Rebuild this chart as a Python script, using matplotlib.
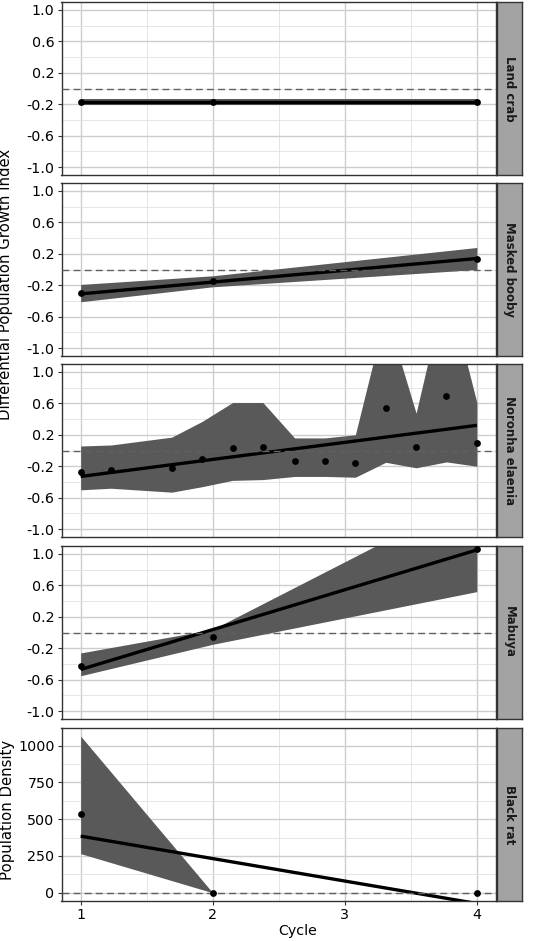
import numpy as np
import matplotlib
matplotlib.use('Agg')
import matplotlib.pyplot as plt
from matplotlib.ticker import FixedLocator

# species order (top to bottom)
species = ['Land crab', 'Masked booby', 'Noronha elaenia', 'Mabuya', 'Black rat']

# observed points
crab_x = [1, 2, 4]
crab_y = [-0.17, -0.17, -0.17]
booby_x = [1, 2, 4]
booby_y = [-0.30, -0.14, 0.135]
elaenia_x = [1.0, 1.23, 1.69, 1.92, 2.15, 2.38, 2.62, 2.85, 3.08, 3.31, 3.54, 3.77, 4.0]
elaenia_y = [-0.27, -0.25, -0.22, -0.11, 0.035, 0.045, -0.13, -0.13, -0.16, 0.54, 0.045, 0.69, 0.095]
mabuya_x = [1, 2, 4]
mabuya_y = [-0.43, -0.06, 1.06]
rat_x = [1, 2, 4]
rat_y = [538, 0, 0]

# fitted line ends (cycle 1 and 4)
crab_fit = [-0.17, -0.17]
booby_fit = [-0.31, 0.14]
elaenia_fit = [-0.33, 0.32]
mabuya_fit = [-0.47, 1.05]
rat_fit = [385, -73]

# ribbons (lower, upper) at the observed x
crab_lo = [-0.205, -0.205, -0.205]
crab_hi = [-0.135, -0.135, -0.135]
booby_lo = [-0.41, -0.22, 0.0]
booby_hi = [-0.19, -0.08, 0.28]
elaenia_lo = [-0.50, -0.48, -0.53, -0.46, -0.38, -0.37, -0.33, -0.33, -0.34, -0.15, -0.22, -0.145, -0.20]
elaenia_hi = [0.057, 0.07, 0.17, 0.37, 0.61, 0.61, 0.16, 0.16, 0.20, 1.76, 0.475, 2.13, 0.61]
mabuya_lo = [-0.55, -0.15, 0.52]
mabuya_hi = [-0.26, 0.04, 1.76]
rat_lo = [266, 0, 0]
rat_hi = [1065, 0, 0]

panels = [
    (crab_x, crab_y, crab_fit, crab_lo, crab_hi),
    (booby_x, booby_y, booby_fit, booby_lo, booby_hi),
    (elaenia_x, elaenia_y, elaenia_fit, elaenia_lo, elaenia_hi),
    (mabuya_x, mabuya_y, mabuya_fit, mabuya_lo, mabuya_hi),
    (rat_x, rat_y, rat_fit, rat_lo, rat_hi),
]

W, H = 560, 941
fig = plt.figure(figsize=(W / 100, H / 100), dpi=100)

tops = [2, 183, 364, 546, 728]
ph = 173
left, right = 61.5, 496
strip_w = 25

ribbon_col = '#595959'
for i, (sp, (x, y, fit, lo, hi)) in enumerate(zip(species, panels)):
    top = tops[i]
    ax = fig.add_axes([left / W, 1 - (top + ph) / H, (right - left) / W, ph / H])
    ax.fill_between(x, lo, hi, color=ribbon_col, lw=0, zorder=2)
    ax.plot([1, 4], fit, color='black', lw=2.4, zorder=3, solid_capstyle='butt')
    ax.scatter(x, y, s=24, color='black', zorder=4, lw=0)
    ax.axhline(0, color='#606060', lw=1.0, ls=(0, (5, 3)), zorder=3)
    ax.set_xlim(0.855, 4.145)
    ax.xaxis.set_major_locator(FixedLocator([1, 2, 3, 4]))
    ax.xaxis.set_minor_locator(FixedLocator([1.5, 2.5, 3.5]))
    if i < 4:
        ax.set_ylim(-1.1, 1.1)
        ax.yaxis.set_major_locator(FixedLocator([-1.0, -0.6, -0.2, 0.2, 0.6, 1.0]))
        ax.yaxis.set_minor_locator(FixedLocator([-0.8, -0.4, 0.0, 0.4, 0.8]))
        ax.set_yticklabels(['-1.0', '-0.6', '-0.2', '0.2', '0.6', '1.0'])
        ax.tick_params(axis='x', labelbottom=False, length=0, which='both')
    else:
        ax.set_ylim(-56, 1120)
        ax.yaxis.set_major_locator(FixedLocator([0, 250, 500, 750, 1000]))
        ax.yaxis.set_minor_locator(FixedLocator([125, 375, 625, 875]))
        ax.set_xticklabels(['1', '2', '3', '4'])
        ax.tick_params(axis='x', length=3, color='#333333', labelsize=10.3, pad=2)
    ax.tick_params(axis='y', length=3, color='#333333', labelsize=10.3, pad=2)
    ax.tick_params(which='minor', length=0)
    ax.grid(True, which='major', color='#cdcdcd', lw=1.0, zorder=0)
    ax.grid(True, which='minor', color='#e0e0e0', lw=0.6, zorder=0)
    ax.set_axisbelow(True)
    for s in ax.spines.values():
        s.set_color('#333333')
        s.set_linewidth(1.0)

    # strip on the right
    sax = fig.add_axes([(right + 1) / W, 1 - (top + ph) / H, strip_w / W, ph / H])
    sax.set_facecolor('#a3a3a3')
    sax.set_xticks([])
    sax.set_yticks([])
    for s in sax.spines.values():
        s.set_color('#333333')
        s.set_linewidth(1.0)
    sax.text(0.5, 0.5, sp, rotation=-90, ha='center', va='center',
             fontsize=8.5, fontweight='bold', color='#1a1a1a', transform=sax.transAxes)

fig.text(6 / W, 1 - 284 / H, 'Differential Population Growth Index', rotation=90,
         ha='center', va='center', fontsize=10.7)
fig.text(8 / W, 1 - 810 / H, 'Population Density', rotation=90,
         ha='center', va='center', fontsize=10.7)
fig.text(298 / W, 1 - 931 / H, 'Cycle', ha='center', va='center', fontsize=10.3)

fig.savefig('out.png', dpi=100)
